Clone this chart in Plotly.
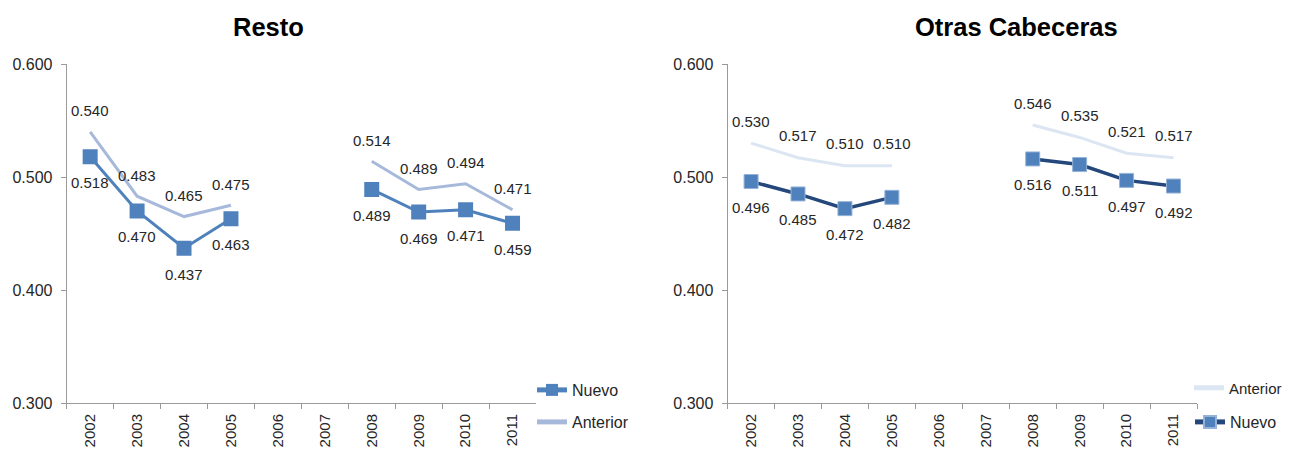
import plotly.graph_objects as go

years = ["2002", "2003", "2004", "2005", "2006", "2007", "2008", "2009", "2010", "2011"]
resto_nuevo = [0.518, 0.470, 0.437, 0.463, None, None, 0.489, 0.469, 0.471, 0.459]
resto_anterior = [0.540, 0.483, 0.465, 0.475, None, None, 0.514, 0.489, 0.494, 0.471]
otras_nuevo = [0.496, 0.485, 0.472, 0.482, None, None, 0.516, 0.511, 0.497, 0.492]
otras_anterior = [0.530, 0.517, 0.510, 0.510, None, None, 0.546, 0.535, 0.521, 0.517]
y_ticks = [0.3, 0.4, 0.5, 0.6]
y_tick_labels = ["0.300", "0.400", "0.500", "0.600"]
titles = ["Resto", "Otras Cabeceras"]

# page body has an 8px margin; figure sized to fit the 1291x450 window
OFF = 8
W, H = 1291 - OFF, 450 - OFF
MT = 64 - OFF
PLOT_BOTTOM = 403 - OFF
MB = H - PLOT_BOTTOM
PH = PLOT_BOTTOM - MT
FONT = "Liberation Sans, Arial, sans-serif"
TXT = "#262626"
AX = "#9a9a9a"

C_NUEVO_L = "#4F81BD"
C_ANT_L = "#A7B9DB"
C_NUEVO_R = "#24487C"
C_MARK_R = "#4F81BD"
C_ANT_R = "#DCE6F2"


def fx(px):
    return (px - OFF) / W


fig = go.Figure()

# Left panel
fig.add_trace(go.Scatter(x=years, y=resto_anterior, name="Anterior", mode="lines",
                         line=dict(color=C_ANT_L, width=3), connectgaps=False,
                         xaxis="x", yaxis="y", legend="legend2"))
fig.add_trace(go.Scatter(x=years, y=resto_nuevo, name="Nuevo", mode="lines+markers",
                         line=dict(color=C_NUEVO_L, width=3),
                         marker=dict(symbol="square", size=15, color=C_NUEVO_L),
                         connectgaps=False, xaxis="x", yaxis="y", legend="legend"))
# Right panel
fig.add_trace(go.Scatter(x=years, y=otras_anterior, name="Anterior", mode="lines",
                         line=dict(color=C_ANT_R, width=3), connectgaps=False,
                         xaxis="x2", yaxis="y2", legend="legend3"))
fig.add_trace(go.Scatter(x=years, y=otras_nuevo, name="Nuevo", mode="lines+markers",
                         line=dict(color=C_NUEVO_R, width=3.5),
                         marker=dict(symbol="square", size=14, color=C_MARK_R,
                                     line=dict(color="#95B3D7", width=1)),
                         connectgaps=False, xaxis="x2", yaxis="y2", legend="legend4"))

annotations = []


def add_labels(vals, xref, yref, shift):
    for i, v in enumerate(vals):
        if v is None:
            continue
        annotations.append(dict(x=i, y=v, xref=xref, yref=yref, text=f"{v:.3f}",
                                showarrow=False, yshift=shift,
                                font=dict(family=FONT, size=15, color=TXT)))


add_labels(resto_anterior, "x", "y", 21)
add_labels(resto_nuevo, "x", "y", -26)
add_labels(otras_anterior, "x2", "y2", 22)
add_labels(otras_nuevo, "x2", "y2", -26)

title_pos = [(268.5, 27), (1016, 27)]
for t, (px, py) in zip(titles, title_pos):
    annotations.append(dict(x=fx(px), y=(PLOT_BOTTOM - (py - OFF)) / PH, xref="paper", yref="paper",
                            text=f"<b>{t}</b>", showarrow=False, xanchor="center", yanchor="middle",
                            font=dict(family=FONT, size=25.5, color="#000000")))

xaxis_common = dict(type="category", categoryorder="array", categoryarray=years,
                    showline=True, linecolor=AX, linewidth=1, ticks="outside", ticklen=5,
                    tickcolor=AX, tickson="boundaries", tickangle=-90, showgrid=False,
                    zeroline=False, tickfont=dict(family=FONT, size=15, color=TXT),
                    ticklabelstandoff=4, range=[-0.5, 9.5], fixedrange=True)
yaxis_common = dict(range=[0.3, 0.6], tickvals=y_ticks, ticktext=y_tick_labels,
                    showline=True, linecolor=AX, linewidth=1, ticks="outside", ticklen=5,
                    tickcolor=AX, showgrid=False, zeroline=False,
                    tickfont=dict(family=FONT, size=16, color=TXT), ticklabelstandoff=5)

legend_common = dict(xref="container", yref="container", xanchor="left", yanchor="middle",
                     bgcolor="rgba(0,0,0,0)", borderwidth=0, itemwidth=30, itemsizing="constant",
                     font=dict(family=FONT, size=16, color=TXT), tracegroupgap=0)


def leg(px, py, size=16):
    d = dict(legend_common)
    d.update(x=fx(px), y=1 - (py - OFF) / H, font=dict(family=FONT, size=size, color=TXT))
    return d


fig.update_layout(
    width=W, height=H,
    margin=dict(l=0, r=0, t=MT, b=MB, autoexpand=False),
    paper_bgcolor="white", plot_bgcolor="white",
    showlegend=True,
    xaxis=dict(xaxis_common, domain=[fx(66.7), fx(536)], anchor="y"),
    yaxis=dict(yaxis_common, anchor="x"),
    xaxis2=dict(xaxis_common, domain=[fx(727.6), fx(1197)], anchor="y2"),
    yaxis2=dict(yaxis_common, anchor="x2"),
    legend=leg(532, 390),
    legend2=leg(532, 422),
    legend3=leg(1189, 388, 15),
    legend4=leg(1190, 422),
    annotations=annotations,
)

fig.write_html("out.html")
